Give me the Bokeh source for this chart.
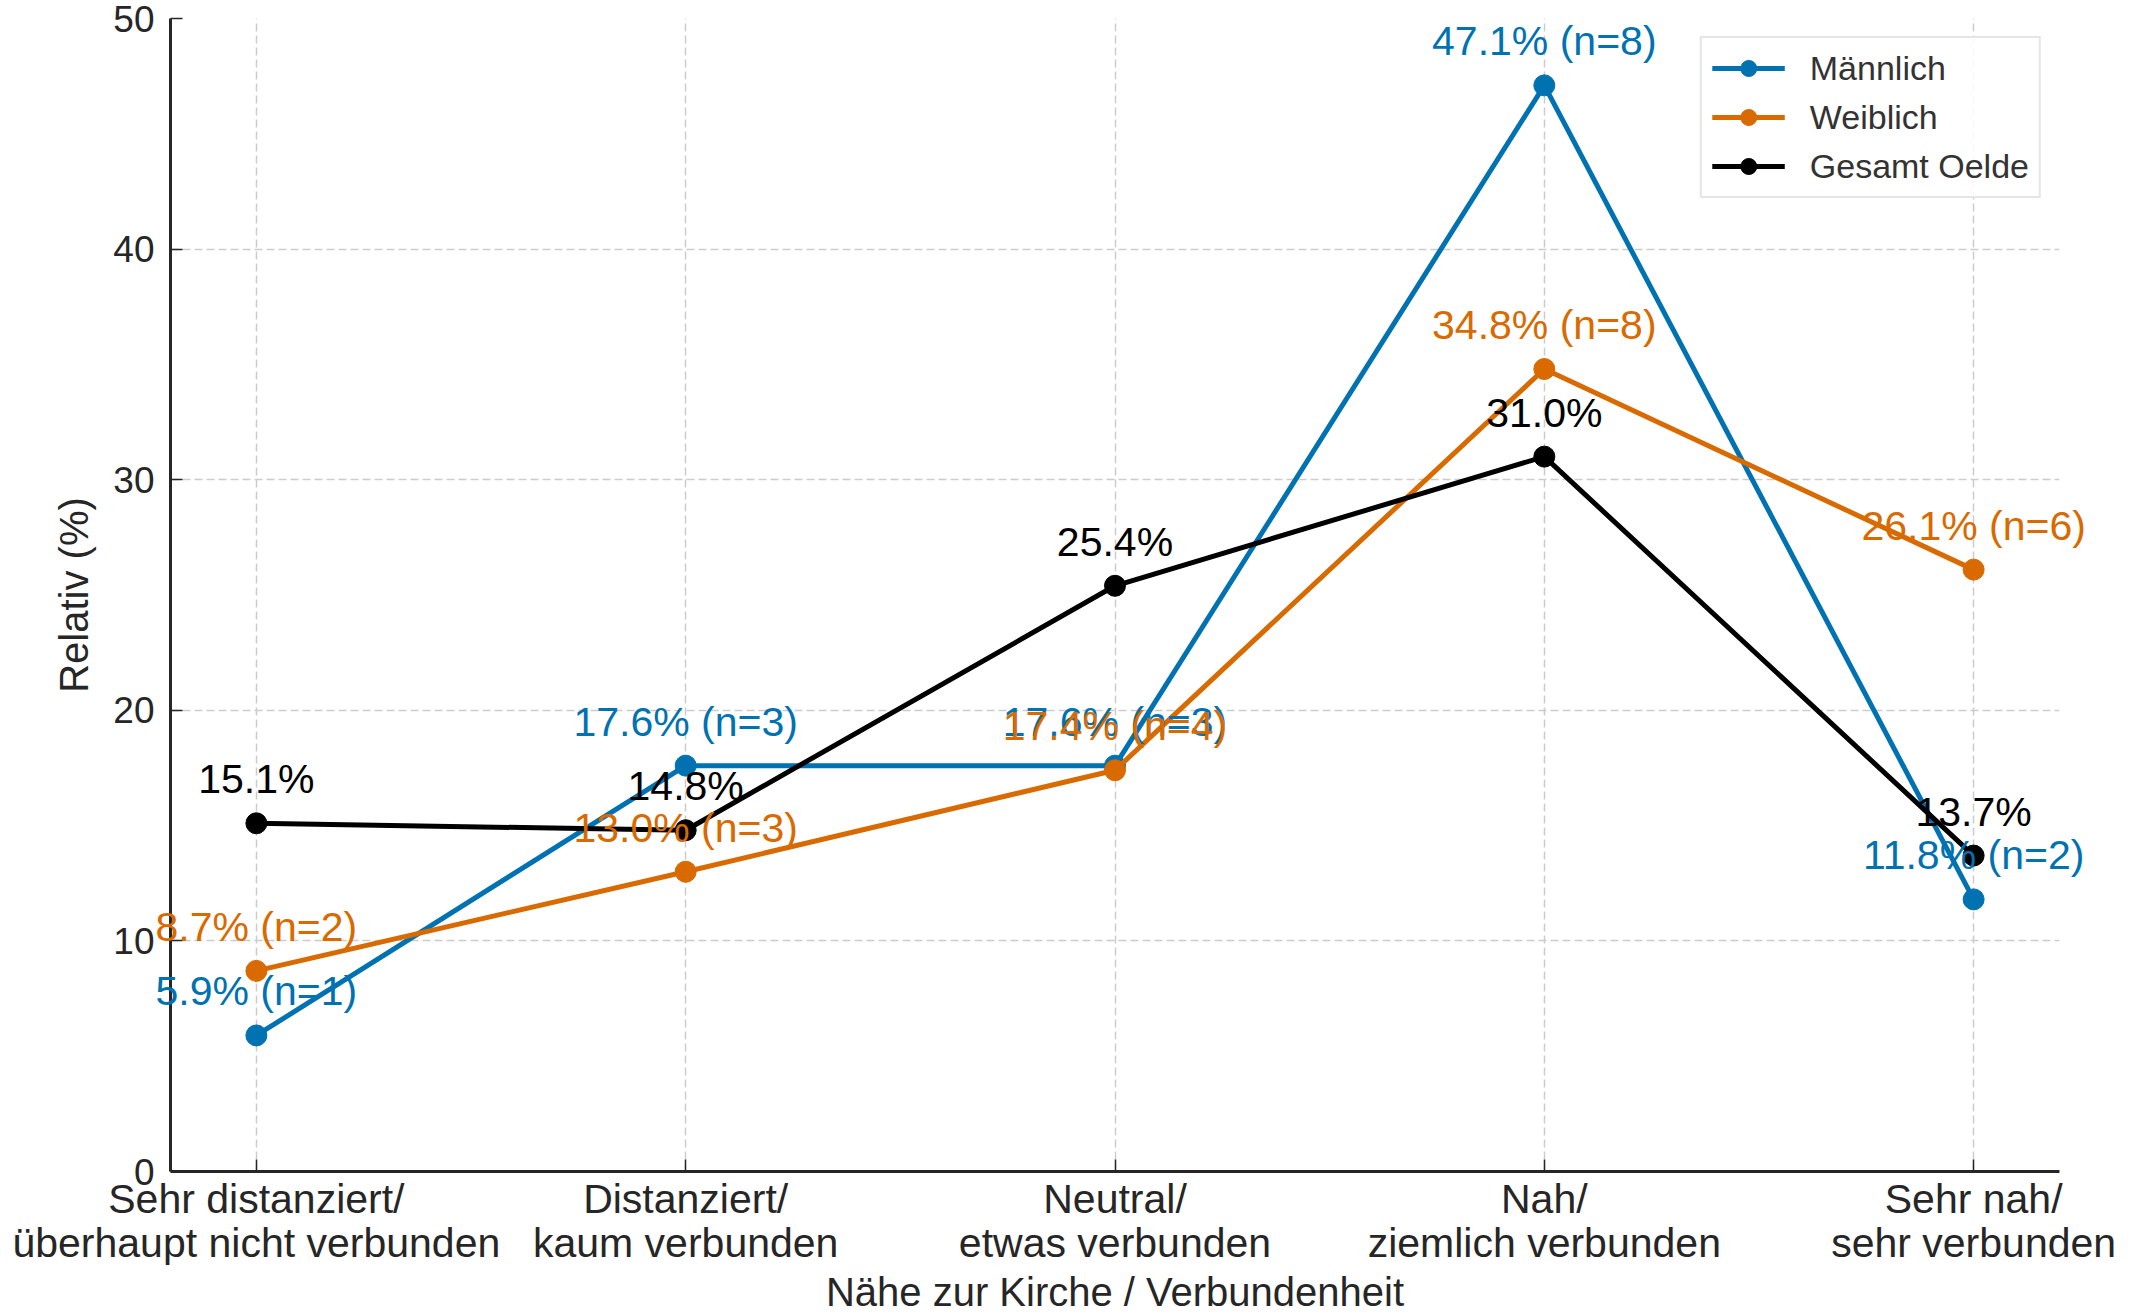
from bokeh.plotting import figure
from bokeh.models import FixedTicker, Legend, LegendItem, ColumnDataSource
from bokeh.core.properties import value
from bokeh.embed import file_html
from bokeh.resources import INLINE

categories = ["Sehr distanziert/\nüberhaupt nicht verbunden", "Distanziert/\nkaum verbunden",
              "Neutral/\netwas verbunden", "Nah/\nziemlich verbunden", "Sehr nah/\nsehr verbunden"]
maennlich = [5.9, 17.6, 17.6, 47.1, 11.8]
maennlich_n = [1, 3, 3, 8, 2]
weiblich = [8.7, 13.0, 17.4, 34.8, 26.1]
weiblich_n = [2, 3, 4, 8, 6]
gesamt = [15.1, 14.8, 25.4, 31.0, 13.7]
y_ticks = [0, 10, 20, 30, 40, 50]

FONT = "Liberation Sans"
BLUE = "#0072B2"
ORANGE = "#D86A00"
BLACK = "#000000"

xs = list(range(len(categories)))

p = figure(width=2131, height=1316, x_range=(-0.2, 4.2), y_range=(0, 50),
           output_backend="svg", toolbar_location=None,
           min_border_left=170, min_border_top=18, min_border_right=72, min_border_bottom=144)
p.outline_line_color = None
p.background_fill_color = "white"

for ax in (p.xaxis[0], p.yaxis[0]):
    ax.axis_line_width = 3
    ax.axis_line_color = "#262626"
    ax.major_tick_line_color = "#262626"
    ax.major_tick_line_width = 1.5
    ax.major_tick_in = 12
    ax.major_tick_out = 0
    ax.minor_tick_line_color = None
    ax.major_label_text_font = FONT
    ax.major_label_text_color = "#262626"
    ax.axis_label_text_font = FONT
    ax.axis_label_text_font_style = "normal"
    ax.axis_label_text_color = "#262626"
    ax.axis_label_text_font_size = "40px"

p.xaxis.ticker = FixedTicker(ticks=xs)
p.xaxis.major_label_overrides = {i: c for i, c in zip(xs, categories)}
p.xaxis.major_label_text_font_size = "41px"
p.xaxis.major_label_text_line_height = 0.96
p.xaxis.major_label_standoff = 4
p.xaxis.axis_label = "Nähe zur Kirche / Verbundenheit"
p.xaxis.axis_label_standoff = 1
p.yaxis.ticker = FixedTicker(ticks=y_ticks)
p.yaxis.major_label_text_font_size = "37px"
p.yaxis.major_label_standoff = 16
p.yaxis.axis_label = "Relativ (%)"
p.yaxis.axis_label_standoff = 14

for g in (p.xgrid[0], p.ygrid[0]):
    g.grid_line_color = "#cccccc"
    g.grid_line_width = 1.5
    g.grid_line_dash = "8 4"
p.xgrid.ticker = FixedTicker(ticks=xs)
p.ygrid.ticker = FixedTicker(ticks=y_ticks)

series = [
    ("Männlich", maennlich, [f"{v:.1f}% (n={n})" for v, n in zip(maennlich, maennlich_n)], BLUE),
    ("Weiblich", weiblich, [f"{v:.1f}% (n={n})" for v, n in zip(weiblich, weiblich_n)], ORANGE),
    ("Gesamt Oelde", gesamt, [f"{v:.1f}%" for v in gesamt], BLACK),
]

items = []
for name, vals, labels, col in series:
    src = ColumnDataSource(dict(x=xs, y=vals, t=labels))
    l = p.line("x", "y", source=src, line_color=col, line_width=5)
    s = p.scatter("x", "y", source=src, size=21, fill_color=col, line_color=col)
    p.text("x", "y", text="t", source=src, text_color=col, text_font=value(FONT),
           text_font_size="41px", text_align="center", text_baseline="alphabetic",
           y_offset=-44, level="overlay")
    items.append(LegendItem(label=name, renderers=[l, s]))

legend = Legend(items=items, location="top_right")
legend.label_text_font = FONT
legend.label_text_font_size = "34px"
legend.label_text_color = "#333333"
legend.glyph_width = 73
legend.glyph_height = 40
legend.label_standoff = 25
legend.spacing = 9
legend.padding = 10
legend.margin = 18
legend.border_line_color = "#cccccc"
legend.border_line_width = 2.5
legend.background_fill_alpha = 0.85
p.add_layout(legend)

open("out.html", "w").write(file_html(p, INLINE))
